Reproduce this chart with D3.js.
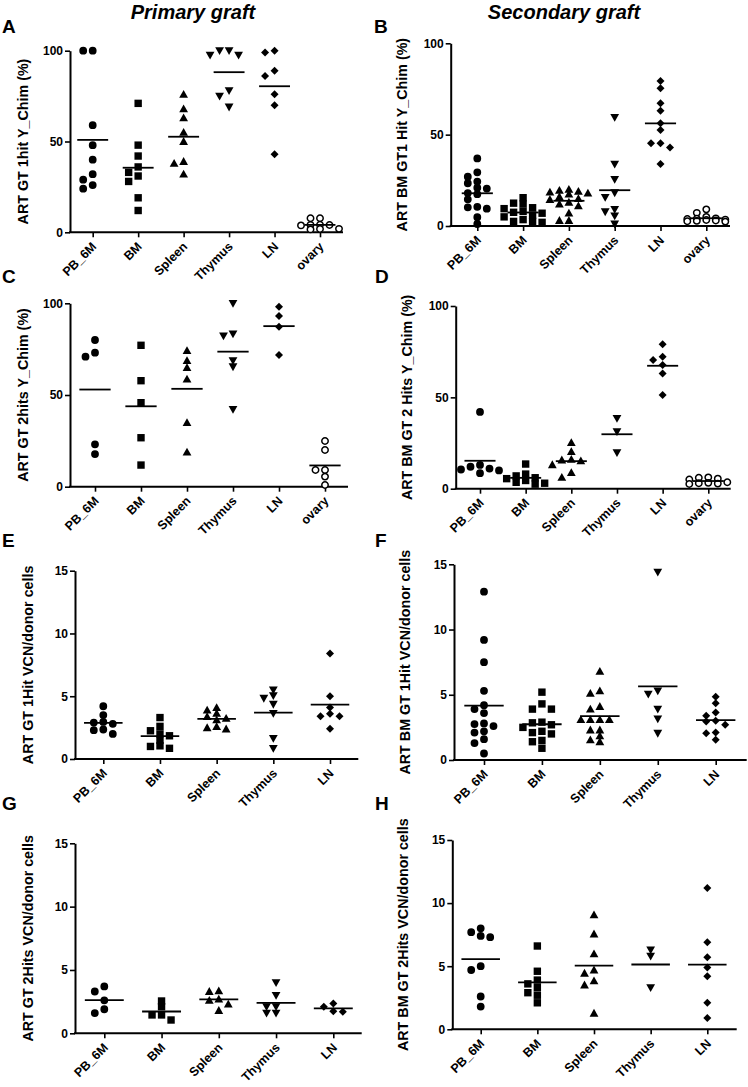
<!DOCTYPE html>
<html><head><meta charset="utf-8">
<script src="https://cdn.jsdelivr.net/npm/d3@7"></script>
<style>
body{margin:0;background:#fff}
svg{display:block}
text{font-family:Arial,"Liberation Sans",sans-serif;font-weight:bold;fill:#000}
</style>
</head><body>
<svg id="chart" width="748" height="1087"></svg>
<script>
// ---------- categories & tick labels ----------
const cats6 = ["PB_6M","BM","Spleen","Thymus","LN","ovary"];
const cats5 = ["PB_6M","BM","Spleen","Thymus","LN"];
const ticksChim = [0,50,100];
const ticksVCN = [0,5,10,15];
const columnTitles = ["Primary graft","Secondary graft"];
const panelLetters = ["A","B","C","D","E","F","G","H"];
const yTitles = [
  "ART GT 1hit Y_Chim (%)",
  "ART BM GT1 Hit Y_Chim (%)",
  "ART GT 2hits Y_Chim (%)",
  "ART BM GT 2 Hits Y_Chim (%)",
  "ART GT 1Hit VCN/donor cells",
  "ART BM GT 1Hit VCN/donor cells",
  "ART GT 2Hits VCN/donor cells",
  "ART BM GT 2Hits VCN/donor cells"
];
// marker per category: circle, square, triangle, inverted triangle, diamond, open circle
const markerTypes = ["circle","square","triUp","triDown","diamond","open"];

// ---------- data (one array per category, per panel) ----------
const chimA = [
  [100,100,59,48,40,32,29,26,24],
  [71,48,42,36,33,31,28,19,12],
  [76,68,63,55,50,39,38,32],
  [100,100,97.6,97.6,78,75,69],
  [100,99,89,86,76,70,43],
  [7.7,7.7,4.2,4.0,3.8,4.1,1.9,1.6,1.8]
];
const chimB = [
  [37,29.4,27,24.3,23.4,21,20.5,18,17.4,14.6,10.5,10.2,9.5,4.8,1.1],
  [15.5,12.5,12,10,9.5,8,7.5,7,6,5,3.5,2.5,2.5,2],
  [20,19.5,19,18.5,18,17.5,16,15,14.5,13,12,11,7,3,3],
  [59.5,33.9,25.5,18.2,15.7,9.1,7.8,5.5,1.1],
  [79.4,75.4,67.2,63.1,56.2,52.5,45.3,45.3,42.9,33.9],
  [9.1,7.2,5,4.2,4,3.8,3.5,3.3,3,2.8,2.6,2.4]
];
const chimC = [
  [80,73.1,70.9,23.1,17.8],
  [77.1,57.8,45.8,26.7,11.8],
  [74.2,68.7,64.9,58.7,34.9,18.8],
  [100,83.3,82.2,68.7,65.4,42.2],
  [98.1,93.1,87.2,71.8],
  [24.9,20,9.1,9.1,5.5,0.9]
];
const chimD = [
  [42,13,12,11,10.5,10,8.5],
  [13.5,8,7,6,5.5,4.5,3.5,3,2.5],
  [25.2,20.3,16.1,15.7,15.2,13.1,8.8,6.2],
  [38.5,31.2,19.7],
  [79,72.2,70.4,67.7,63.1,51.3],
  [6.2,6,5.5,5,3.5,3.2,3,2.8,2.6]
];
const vcnE = [
  [4.2,3.5,2.95,2.9,2.8,2.35,2.3,2.0],
  [3.3,2.6,2.25,2.0,1.85,1.5,1.05,0.85,1.0],
  [4.09,3.9,3.64,3.37,3.24,3.11,2.58,2.49,2.39],
  [5.5,5.05,4.84,4.36,3.64,1.65,0.85],
  [8.4,5.0,4.1,3.6,3.4,3.4,2.4]
];
const vcnF = [
  [12.9,9.2,7.5,5.3,4.2,3.9,3.6,2.8,2.75,2.6,2.2,2.1,1.6,1.3,0.5],
  [5.2,4.3,3.9,3.9,2.9,2.85,2.7,2.5,2.2,2.1,2.0,1.5,1.4,0.9],
  [6.8,5.3,5.1,4.1,3.9,3.1,3.1,3.1,3.1,2.3,2.3,1.85,1.55,1.4],
  [14.4,5.3,5.05,3.9,3.15,2.05],
  [4.85,4.35,3.65,3.4,3.0,2.95,2.7,2.1,2.05,1.55]
];
const vcnG = [
  [3.7,3.3,2.6,1.9,1.6],
  [2.55,2.1,1.45,1.45,1.05],
  [3.35,3.3,2.7,2.6,2.3,1.8],
  [4.0,3.0,2.1,2.1,1.6,1.6],
  [2.35,2.1,1.75,1.7]
];
const vcnH = [
  [8.0,7.7,7.4,7.3,5.0,4.7,2.6,1.8],
  [6.6,4.6,3.9,3.6,3.3,2.9,2.7,2.1],
  [9.06,7.55,5.97,4.7,4.44,3.83,3.51,1.27],
  [6.3,5.8,3.3],
  [11.2,6.9,5.7,4.9,4.2,2.1,0.9]
];

// ---------- layout (positions only) ----------
const layouts = [
  {x0:70,   x1:343,   c0:92.7,  c1:320,   yTop:50.7,  yBot:232.3, lx:2,   ly:33},
  {x0:450.7,x1:730,   c0:477.3, c1:706.3, yTop:43.3,  yBot:226,   lx:374, ly:33},
  {x0:70,   x1:348,   c0:95,    c1:325,   yTop:303.3, yBot:486.7, lx:2,   ly:283},
  {x0:455.7,x1:730.7, c0:480,   c1:708.3, yTop:306,   yBot:488.7, lx:375, ly:283},
  {x0:75,   x1:358.3, c0:103.3, c1:330,   yTop:570.7, yBot:759,   lx:2,   ly:547},
  {x0:454,  x1:746.7, c0:484,   c1:715.7, yTop:564.3, yBot:760,   lx:375, ly:547},
  {x0:75,   x1:361.7, c0:104.3, c1:333.3, yTop:843.3, yBot:1033.3,lx:2,   ly:810},
  {x0:452.3,x1:736.7, c0:480.7, c1:707.3, yTop:840,   yBot:1029.3,lx:375, ly:810}
];
const panelData = [chimA, chimB, chimC, chimD, vcnE, vcnF, vcnG, vcnH];
const panelCats = [cats6, cats6, cats6, cats6, cats5, cats5, cats5, cats5];
const panelTicks = [ticksChim, ticksChim, ticksChim, ticksChim, ticksVCN, ticksVCN, ticksVCN, ticksVCN];

const svg = d3.select("#chart");

// column titles
svg.append("text").attr("x",193).attr("y",19).attr("text-anchor","middle")
  .style("font-size","20px").style("font-style","italic").text(columnTitles[0]);
svg.append("text").attr("x",564).attr("y",19).attr("text-anchor","middle")
  .style("font-size","20px").style("font-style","italic").text(columnTitles[1]);

function markerPath(type){
  switch(type){
    case "circle": return d3.symbol(d3.symbolCircle, Math.PI*3.9*3.9)();
    case "open": return d3.symbol(d3.symbolCircle, Math.PI*3.2*3.2)();
    case "square": return "M-3.7,-3.7h7.4v7.4h-7.4Z";
    case "triUp": return "M0,-4.4L4.4,3.4L-4.4,3.4Z";
    case "triDown": return "M0,4.4L4.4,-3.4L-4.4,-3.4Z";
    case "diamond": return "M0,-4L4,0L0,4L-4,0Z";
  }
}

// beeswarm-like column assignment (GraphPad style scatter), limited width
function swarmColumns(vals, y, h, maxCol){
  const order = vals.map((v,i)=>i).sort((a,b)=>vals[b]-vals[a]);
  const placed = [];
  const cols = new Array(vals.length);
  const seq = [0];
  for(let k=1;k<=maxCol;k++){ seq.push(-k); seq.push(k); }
  order.forEach(i=>{
    const py = y(vals[i]);
    let best = null, bestD = -1;
    for(const c of seq){
      const same = placed.filter(p=>p.c===c);
      const d = same.length ? d3.min(same, p=>Math.abs(p.y-py)) : Infinity;
      if(d >= h){ best = c; bestD = d; break; }
      if(d > bestD){ bestD = d; best = c; }
    }
    placed.push({c:best,y:py}); cols[i]=best;
  });
  return cols;
}

panelData.forEach((data, pi)=>{
  const L = layouts[pi];
  const cats = panelCats[pi];
  const ticks = panelTicks[pi];
  const g = svg.append("g");
  const x = d3.scalePoint().domain(cats).range([L.c0, L.c1]);
  const y = d3.scaleLinear().domain([0, ticks[ticks.length-1]]).range([L.yBot, L.yTop]);
  const step = x.step();

  // panel letter
  g.append("text").attr("x",L.lx).attr("y",L.ly).style("font-size","19px").text(panelLetters[pi]);

  // y axis
  const ya = g.append("g").attr("transform",`translate(${L.x0},0)`)
    .call(d3.axisLeft(y).tickValues(ticks).tickSize(5).tickSizeOuter(0).tickPadding(2));
  ya.select(".domain").attr("stroke","#000").attr("stroke-width",2);
  ya.selectAll(".tick line").attr("stroke","#000").attr("stroke-width",1.6);
  ya.selectAll(".tick text").style("font-size","12px").style("font-family","Arial, 'Liberation Sans', sans-serif").attr("fill","#000");

  // x axis
  const xa = g.append("g").attr("transform",`translate(0,${L.yBot})`)
    .call(d3.axisBottom(x).tickSize(5).tickSizeOuter(0));
  xa.select(".domain").attr("d",`M${L.x0-1},0H${L.x1}`).attr("stroke","#000").attr("stroke-width",2);
  xa.selectAll(".tick line").attr("stroke","#000").attr("stroke-width",1.6);
  xa.selectAll(".tick text")
    .style("font-size","12.5px").style("font-family","Arial, 'Liberation Sans', sans-serif").attr("fill","#000")
    .attr("text-anchor","end").attr("dy",null).attr("y",null)
    .attr("transform","translate(4,15) rotate(-45)");

  // y title
  g.append("text")
    .attr("transform",`translate(${L.x0 - (pi%2===0 ? 47 : 49)},${(L.yTop+L.yBot)/2}) rotate(-90)`)
    .attr("text-anchor","middle").attr("dy","0.35em")
    .style("font-size","14.3px").text(yTitles[pi]);

  // points + mean lines
  data.forEach((vals, ci)=>{
    const cx = x(cats[ci]);
    const cols = swarmColumns(vals, y, 5.5, 2);
    const type = markerTypes[ci];
    g.append("g").selectAll("path").data(vals).join("path")
      .attr("d", markerPath(type))
      .attr("transform",(d,i)=>`translate(${cx + cols[i]*9.5},${y(d)})`)
      .attr("fill", type==="open" ? "#fff" : "#000")
      .attr("stroke", type==="open" ? "#000" : "none")
      .attr("stroke-width", type==="open" ? 1.5 : 0);
    const m = d3.mean(vals);
    const hw = step*0.34;
    g.append("line").attr("x1",cx-hw).attr("x2",cx+hw).attr("y1",y(m)).attr("y2",y(m))
      .attr("stroke","#000").attr("stroke-width",1.8);
  });
});
</script>
</body></html>
